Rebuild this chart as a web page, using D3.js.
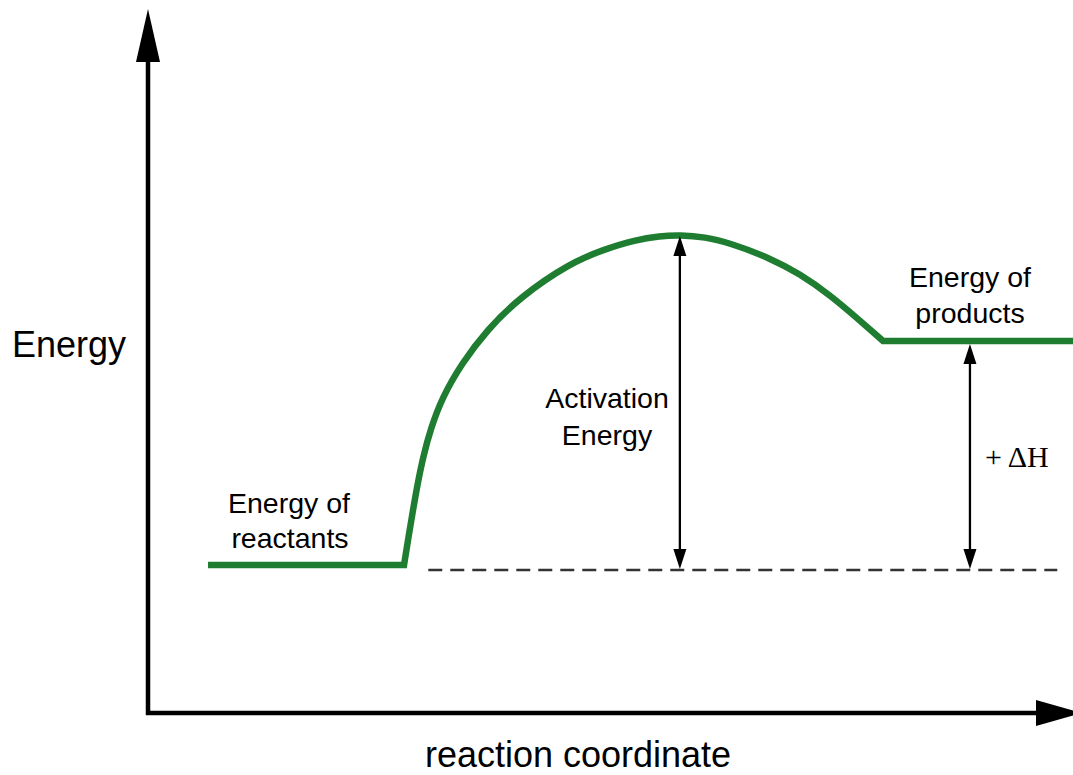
<!DOCTYPE html>
<html>
<head>
<meta charset="utf-8">
<script src="https://cdn.jsdelivr.net/npm/d3@7"></script>
<style>
  html, body { margin: 0; padding: 0; background: #fff; overflow: hidden; }
  svg { display: block; }
</style>
</head>
<body>
<div id="chart"></div>
<script>
// Energy diagram for an endothermic reaction (values in arbitrary units 0-100)
const reactantX = [6.49, 27.68];
const reactantEnergy = 21.05;

// barrier curve
const barrierX = [27.68, 28.11, 28.54, 29.08, 29.73, 30.59, 31.78, 33.95, 36.65, 40.22, 45.62, 49.41, 52.65, 55.35, 57.51,
                  60.22, 62.92, 67.24, 70.49, 73.73, 76.76, 79.46];
const barrierE = [21.05, 24.61, 28.02, 32.15, 36.42, 40.54, 44.81, 49.79, 54.48, 59.17, 64.01, 66.00, 67.28, 67.85, 68.0,
                  67.71, 66.86, 64.72, 62.45, 59.46, 56.05, 52.92];

const productX = [79.46, 100];
const productEnergy = 52.92;

const baselineX = [30.3, 98.3];
const baselineEnergy = 20.34;

const activationX = 57.5;
const activationTop = 67.85;
const deltaHX = 88.86;
const deltaHTop = 52.49;

const W = 1073, H = 775;
const green = '#1f7d31';

const svg = d3.select('#chart')
  .append('svg')
  .attr('width', W)
  .attr('height', H);

const x = d3.scaleLinear().domain([0, 100]).range([148, 1073]);
const y = d3.scaleLinear().domain([0, 100]).range([713, 10]);

// Axes with arrowheads
const axisG = svg.append('g');
axisG.append('line')
  .attr('x1', x(0)).attr('x2', x(0))
  .attr('y1', y(0) + 2).attr('y2', 60)
  .attr('stroke', '#000').attr('stroke-width', 4.5);
axisG.append('line')
  .attr('x1', x(0) - 2).attr('x2', 1040)
  .attr('y1', y(0)).attr('y2', y(0))
  .attr('stroke', '#000').attr('stroke-width', 4.5);
axisG.append('path')
  .attr('d', `M${x(0)},9 L${x(0) + 12},62 L${x(0) - 12},62 Z`)
  .attr('fill', '#000');
axisG.append('path')
  .attr('d', `M1082,${y(0)} L1036,${y(0) - 13} L1036,${y(0) + 13} Z`)
  .attr('fill', '#000');

// Dashed reference line at reactant level
svg.append('line')
  .attr('x1', x(baselineX[0])).attr('x2', x(baselineX[1]))
  .attr('y1', y(baselineEnergy)).attr('y2', y(baselineEnergy))
  .attr('stroke', '#333')
  .attr('stroke-width', 2.5)
  .attr('stroke-dasharray', '14,8');

// Energy profile: flat reactants, barrier, flat products in one path
const barrier = barrierX.map((v, i) => [v, barrierE[i]]);
const curvePath = d3.line()
  .x(d => x(d[0]))
  .y(d => y(d[1]))
  .curve(d3.curveBasis)(barrier);

const d = `M${x(reactantX[0])},${y(reactantEnergy)}` +
  curvePath.replace(/^M/, 'L') +
  `L${x(productX[1]) + 5},${y(productEnergy)}`;

svg.append('path')
  .attr('d', d)
  .attr('fill', 'none')
  .attr('stroke', green)
  .attr('stroke-width', 6.5)
  .attr('stroke-linejoin', 'miter');

// Double headed arrows
function doubleArrow(cx, eTop, eBottom) {
  const g = svg.append('g');
  const top = y(eTop), bot = y(eBottom) - 1;
  const hl = 20, hw = 6.5;
  g.append('line')
    .attr('x1', x(cx)).attr('x2', x(cx))
    .attr('y1', top + hl - 2).attr('y2', bot - hl + 2)
    .attr('stroke', '#000').attr('stroke-width', 2.3);
  g.append('path')
    .attr('d', `M${x(cx)},${top} L${x(cx) + hw},${top + hl} L${x(cx) - hw},${top + hl} Z`)
    .attr('fill', '#000');
  g.append('path')
    .attr('d', `M${x(cx)},${bot} L${x(cx) + hw},${bot - hl} L${x(cx) - hw},${bot - hl} Z`)
    .attr('fill', '#000');
}
doubleArrow(activationX, activationTop, baselineEnergy);
doubleArrow(deltaHX, deltaHTop, baselineEnergy);

// Labels
const sans = 'Liberation Sans, Arial, Helvetica, sans-serif';
function label(txt, px, py, size, anchor) {
  svg.append('text')
    .attr('x', px).attr('y', py)
    .attr('font-family', sans)
    .attr('font-size', size)
    .attr('text-anchor', anchor || 'middle')
    .attr('fill', '#000')
    .text(txt);
}

label('Energy', 12, 357, 36, 'start');
label('reaction coordinate', 578, 767, 36);

label('Energy of', 289, 513, 28.5);
label('reactants', 290, 548, 28.5);

label('Activation', 607, 408, 28.5);
label('Energy', 607, 445, 28.5);

label('Energy of', 970, 287, 28.5);
label('products', 970, 323, 28.5);

svg.append('text')
  .attr('x', 985).attr('y', 467)
  .attr('font-family', 'Liberation Serif, Times New Roman, serif')
  .attr('font-size', 30)
  .attr('fill', '#000')
  .text('+ \u0394H');
</script>
</body>
</html>
